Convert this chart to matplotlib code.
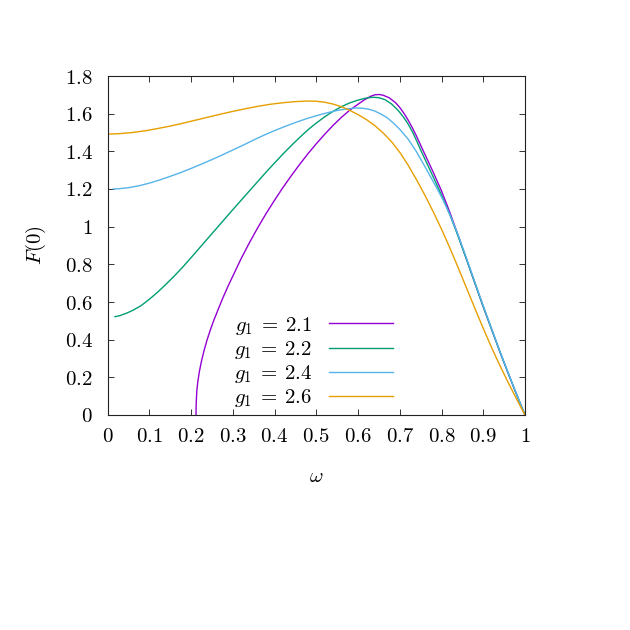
import matplotlib
matplotlib.use("Agg")
import matplotlib.pyplot as plt

plt.rcParams['mathtext.fontset'] = 'cm'
plt.rcParams['font.family'] = ['DejaVu Serif']

# F(0) vs omega
w_21 = [0.212, 0.2122, 0.2128, 0.214, 0.2165, 0.22, 0.225, 0.231, 0.238, 0.246, 0.255,
        0.265, 0.275, 0.29, 0.305, 0.32, 0.34, 0.36, 0.38, 0.40, 0.42, 0.44, 0.46, 0.48,
        0.50, 0.52, 0.54, 0.56, 0.58, 0.60, 0.615, 0.63, 0.64, 0.65, 0.66, 0.675, 0.69,
        0.70, 0.71, 0.72, 0.73, 0.74, 0.75, 0.76, 0.78, 0.80, 0.82, 0.84, 0.86, 0.88, 0.90,
        0.92, 0.94, 0.96, 0.98, 1.0]
F_21 = [0.0, 0.04, 0.08, 0.13, 0.18, 0.23, 0.285, 0.34, 0.395, 0.45, 0.505,
        0.56, 0.615, 0.69, 0.76, 0.83, 0.915, 0.995, 1.07, 1.14, 1.207, 1.27, 1.33, 1.387,
        1.44, 1.49, 1.537, 1.58, 1.618, 1.65, 1.673, 1.692, 1.700, 1.702, 1.698, 1.684, 1.658,
        1.633, 1.602, 1.566, 1.526, 1.481, 1.433, 1.385, 1.29, 1.19, 1.076, 0.952, 0.826, 0.70, 0.575,
        0.455, 0.335, 0.22, 0.108, 0.0]

w_22 = [0.018, 0.03, 0.045, 0.06, 0.08, 0.10, 0.12, 0.14, 0.16, 0.18, 0.20, 0.22, 0.24,
        0.26, 0.28, 0.30, 0.32, 0.34, 0.36, 0.38, 0.40, 0.42, 0.44, 0.46, 0.48, 0.50, 0.52,
        0.54, 0.56, 0.58, 0.60, 0.62, 0.635, 0.65, 0.665, 0.68, 0.695, 0.70, 0.71, 0.715,
        0.72, 0.73, 0.74, 0.75, 0.76, 0.78, 0.80, 0.82, 0.84, 0.86, 0.88, 0.90, 0.92, 0.94,
        0.96, 0.98, 1.0]
F_22 = [0.522, 0.528, 0.54, 0.555, 0.58, 0.614, 0.652, 0.694, 0.738, 0.785, 0.835, 0.886, 0.937,
        0.988, 1.039, 1.09, 1.14, 1.19, 1.24, 1.29, 1.338, 1.385, 1.43, 1.473, 1.514, 1.55, 1.583,
        1.612, 1.637, 1.657, 1.672, 1.683, 1.687, 1.685, 1.674, 1.652, 1.62, 1.607, 1.578, 1.562,
        1.545, 1.505, 1.458, 1.408, 1.36, 1.265, 1.168, 1.063, 0.948, 0.826, 0.70, 0.575, 0.455, 0.335,
        0.22, 0.108, 0.0]

w_24 = [0.014, 0.03, 0.05, 0.075, 0.10, 0.125, 0.15, 0.175, 0.20, 0.225, 0.25, 0.275, 0.30,
        0.325, 0.35, 0.375, 0.40, 0.425, 0.45, 0.475, 0.50, 0.525, 0.55, 0.575, 0.595, 0.61,
        0.625, 0.64, 0.655, 0.67, 0.685, 0.70, 0.72, 0.74, 0.76, 0.78, 0.80, 0.82, 0.84, 0.86,
        0.88, 0.90, 0.92, 0.94, 0.96, 0.98, 1.0]
F_24 = [1.200, 1.202, 1.207, 1.217, 1.231, 1.248, 1.267, 1.287, 1.309, 1.332, 1.356, 1.381, 1.407,
        1.433, 1.46, 1.486, 1.51, 1.532, 1.553, 1.572, 1.589, 1.604, 1.617, 1.626, 1.63, 1.629,
        1.624, 1.614, 1.598, 1.578, 1.55, 1.517, 1.465, 1.398, 1.32, 1.24, 1.158, 1.065, 0.955, 0.832,
        0.705, 0.58, 0.458, 0.338, 0.222, 0.11, 0.0]

w_26 = [0.005, 0.03, 0.06, 0.09, 0.12, 0.15, 0.18, 0.21, 0.24, 0.27, 0.30, 0.33, 0.36, 0.39,
        0.42, 0.45, 0.48, 0.50, 0.52, 0.54, 0.56, 0.58, 0.60, 0.62, 0.64, 0.66, 0.68, 0.70,
        0.72, 0.74, 0.76, 0.78, 0.80, 0.82, 0.84, 0.86, 0.88, 0.90, 0.92, 0.94, 0.96, 0.98, 1.0]
F_26 = [1.492, 1.494, 1.500, 1.509, 1.521, 1.534, 1.549, 1.565, 1.581, 1.597, 1.612, 1.626, 1.639, 1.65,
        1.658, 1.664, 1.667, 1.666, 1.661, 1.651, 1.637, 1.618, 1.595, 1.569, 1.537, 1.498, 1.452, 1.395,
        1.327, 1.25, 1.168, 1.08, 0.987, 0.887, 0.782, 0.674, 0.566, 0.46, 0.358, 0.262, 0.171, 0.084, 0.0]

series = [
    (w_21, F_21, '2.1', '#9400D3'),
    (w_22, F_22, '2.2', '#009E73'),
    (w_24, F_24, '2.4', '#56B4E9'),
    (w_26, F_26, '2.6', '#E69F00'),
]

xticks = [0, 0.1, 0.2, 0.3, 0.4, 0.5, 0.6, 0.7, 0.8, 0.9, 1]
yticks = [0, 0.2, 0.4, 0.6, 0.8, 1, 1.2, 1.4, 1.6, 1.8]
fs = 15

fig = plt.figure(figsize=(6.3, 6.3), dpi=100)
ax = fig.add_axes([107.5 / 630, 1 - 415 / 630, 417.5 / 630, 339 / 630])

for w, F, g, c in series:
    ax.plot(w, F, color=c, lw=1.0, label=r'$g_1 \:=\: %s$' % g)

ax.set_xlim(0, 1)
ax.set_ylim(0, 1.8)
ax.set_xticks(xticks)
ax.set_xticklabels(['$%g$' % v for v in xticks])
ax.set_yticks(yticks)
ax.set_yticklabels(['$%g$' % v for v in yticks])
ax.tick_params(direction='in', length=4.5, width=0.7, top=True, right=True,
               labelsize=fs, color='#333333')
ax.tick_params(axis='y', pad=10.5)
ax.tick_params(axis='x', pad=9)
for s in ax.spines.values():
    s.set_linewidth(0.8)
    s.set_color('#222222')

ax.set_xlabel(r'$\omega$', fontsize=fs, labelpad=15)
ax.set_ylabel(r'$F(0)$', fontsize=fs, labelpad=12)

ax.legend(loc='center', bbox_to_anchor=(0.4934, 0.1567), frameon=False, markerfirst=False,
          fontsize=fs, handlelength=3.1, handletextpad=0.8, labelspacing=0.1,
          borderpad=0, borderaxespad=0)

fig.savefig('out.png', dpi=100)
